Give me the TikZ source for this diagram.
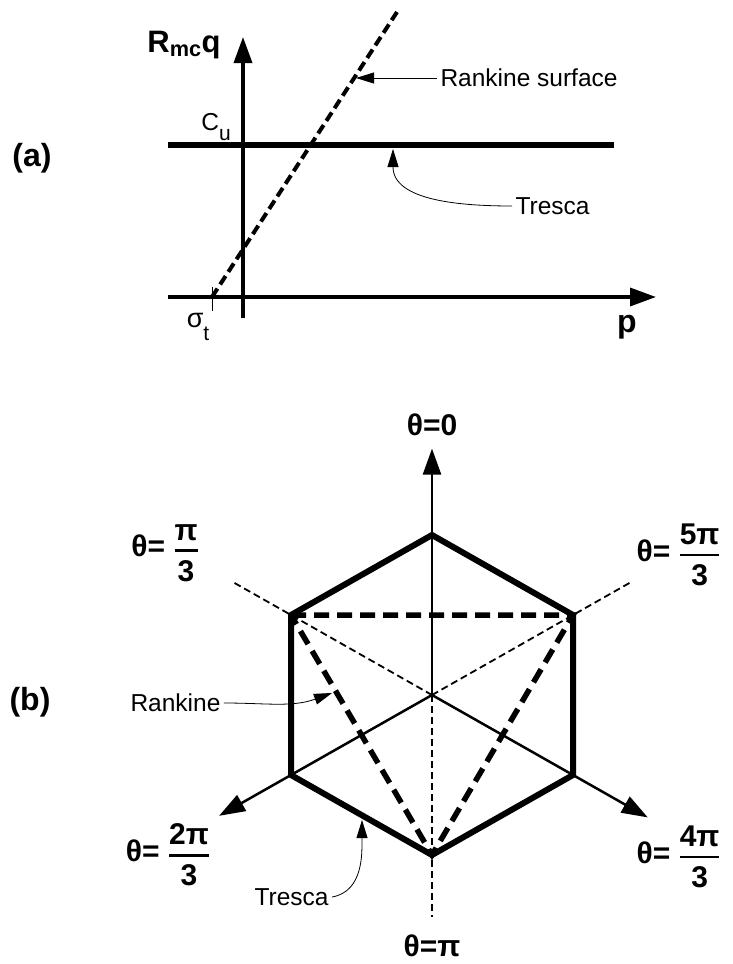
\documentclass[tikz,border=0pt]{standalone}
\usepackage{amsmath}
\usepackage{fontspec}
\setmainfont{Liberation Sans}
\usetikzlibrary{arrows.meta,positioning,calc}
\newcommand{\thfrac}[2]{$\genfrac{}{}{2.8pt}{0}{\text{\bfseries #1}}{\text{\bfseries #2}}$}
\newcommand{\lowsub}[3]{#1\raisebox{-#3}{\fontsize{21}{21}\selectfont #2}}

\begin{document}
\begin{tikzpicture}[x=1pt,y=-1pt,>={Triangle[length=26pt,width=18pt]},
    axis/.style={line width=3.5pt,->},
    ray/.style={line width=2.5pt,->},
    guide/.style={line width=1.8pt,dash pattern=on 7pt off 4pt},
    hexedge/.style={line width=6pt,line join=miter},
    rankine/.style={line width=5.5pt,dash pattern=on 15pt off 8pt},
    pointer/.style={line width=0.8pt,-{Triangle[length=18pt,width=11pt]}},
    note/.style={font=\fontsize{24.5}{28}\selectfont},
    bigbold/.style={font=\fontsize{32}{36}\selectfont\bfseries},
    thlabel/.style={font=\fontsize{30}{34}\selectfont\bfseries}]
  \useasboundingbox (0,0) rectangle (732,964);

  % (a) Tresca and Rankine in the p-q plane
  \coordinate (o) at (243,297);
  \coordinate (qtop) at (243,37);
  \coordinate (qbot) at (243,318);
  \coordinate (pleft) at (168,297);
  \coordinate (pright) at (656,297);
  \coordinate (trl) at (168,145);
  \coordinate (trr) at (614,145);
  \coordinate (st) at (212,297);
  \coordinate (rkend) at (397,12);
  \coordinate (rktip) at (356,78);
  \coordinate (trtip) at (393,149);

  \draw[axis] (qbot) -- (qtop);
  \draw[axis] (pleft) -- (pright);
  \draw[line width=6.5pt] (trl) -- (trr);
  \draw[line width=4pt,dash pattern=on 10pt off 5pt] (st) -- (rkend);
  \draw[line width=0.8pt] ($(st)+(0,-10)$) -- ($(st)+(0,14)$);

  \node[bigbold] (laba) at (32,158) {(a)};
  \node[font=\fontsize{31}{34}\selectfont\bfseries] (rq) at (184,45) {R\textsubscript{mc}q};
  \node[note] (cu) at (216,127) {\lowsub{C}{u}{10pt}};
  \node[font=\fontsize{27}{30}\selectfont] (sig) at (198,327) {\lowsub{σ}{t}{13pt}};
  \node[bigbold] (p) at (627,327) {p};
  \node[note,anchor=west] (rks) at (437,78) {Rankine surface};
  \node[note,anchor=west] (trs) at (512,206) {Tresca};
  \draw[pointer] (rks.west) -- (rktip);
  \draw[pointer] (trs.west) to[out=180,in=-90] (trtip);

  % (b) deviatoric plane
  \coordinate (c) at (432,695);
  \coordinate (v0) at (432,535);
  \coordinate (v1) at (291,615);
  \coordinate (v2) at (291,775);
  \coordinate (v3) at (432,855);
  \coordinate (v4) at (573,775);
  \coordinate (v5) at (573,615);
  \coordinate (rkbtip) at (332,693);
  \coordinate (trbtip) at (362,820);

  \draw[guide] (c) -- ($(c)!1.42!(v1)$);
  \draw[guide] (c) -- ($(c)!1.42!(v5)$);
  \draw[guide] (c) -- ($(c)!1.39!(v3)$);
  \draw[ray] (c) -- ($(c)!1.54!(v0)$);
  \draw[ray] (c) -- ($(c)!1.51!(v2)$);
  \draw[ray] (c) -- ($(c)!1.53!(v4)$);
  \draw[hexedge] (v0) -- (v1) -- (v2) -- (v3) -- (v4) -- (v5) -- cycle;
  \draw[rankine] (v1) -- (v5) -- (v3) -- cycle;

  \node[bigbold] (labb) at (30,702) {(b)};
  \node[thlabel] (th0) at (432,425) {θ=0};
  \node[thlabel] (thpi) at (432,946) {θ=π};
  \node[thlabel] (th1) at (165,553) {θ= \thfrac{π}{3}};
  \node[thlabel,anchor=west] (th5) at (633,555) {θ= \thfrac{5π}{3}};
  \node[thlabel] (th2) at (168,855) {θ= \thfrac{2π}{3}};
  \node[thlabel,anchor=west] (th4) at (633,857) {θ= \thfrac{4π}{3}};
  \node[note,anchor=west] (rkb) at (127,703) {Rankine};
  \node[note,anchor=west] (trb) at (251,897) {Tresca};
  \draw[pointer] (rkb.east) to[out=0,in=200] (rkbtip);
  \draw[pointer] (trb.east) to[out=10,in=-90] (trbtip);
\end{tikzpicture}
\end{document}
